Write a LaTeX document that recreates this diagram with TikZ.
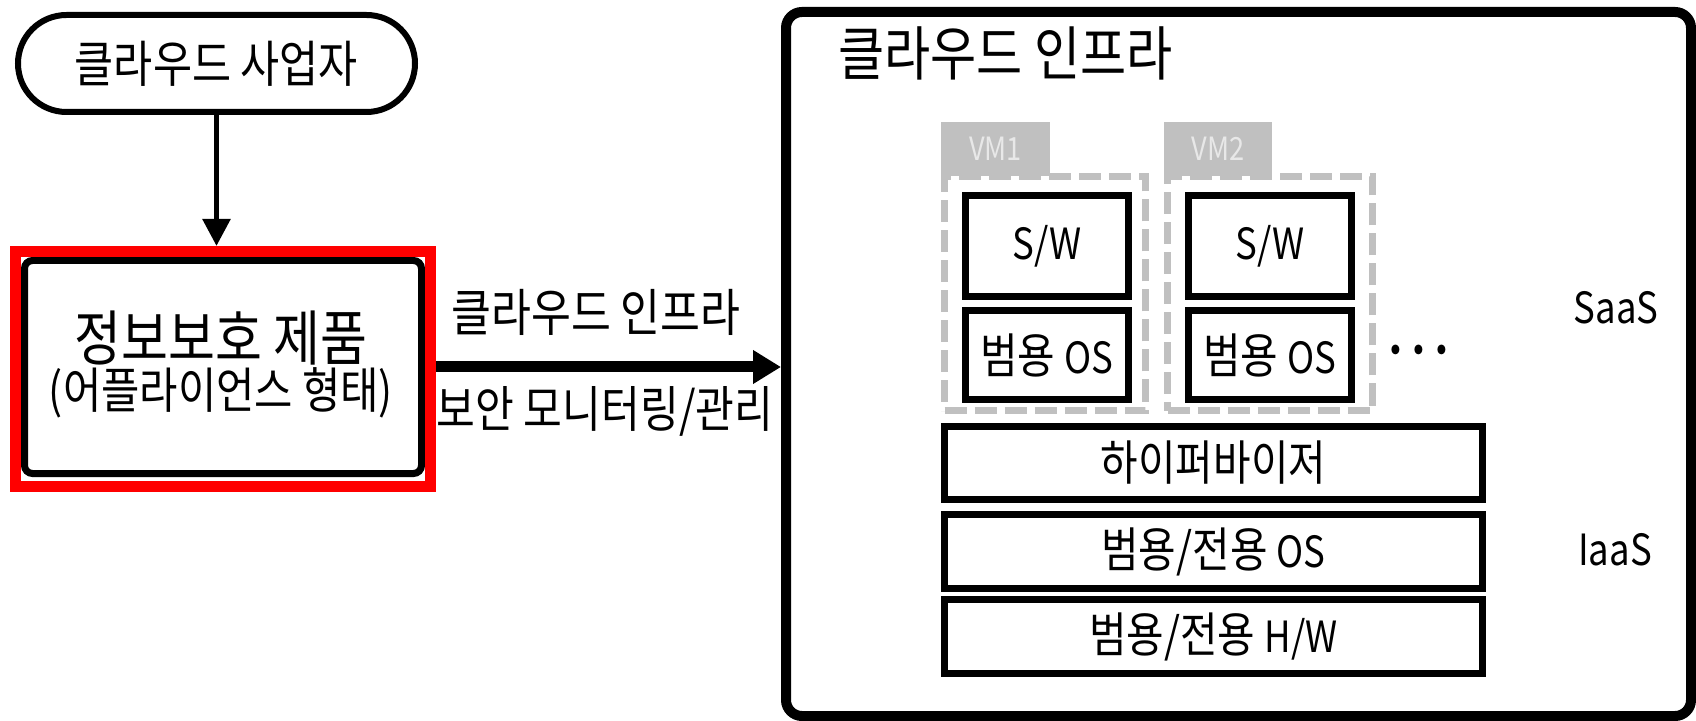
\documentclass[tikz,border=0pt]{standalone}
\usepackage{fontspec}
\setmainfont{Noto Sans CJK KR}[FakeStretch=0.85]
\usetikzlibrary{arrows.meta,shapes.misc}
\newcommand{\fsz}[1]{\fontsize{#1pt}{#1pt}\selectfont}
\newcommand{\latn}[1]{{\fontsize{21.5pt}{21.5pt}\selectfont #1}}
\definecolor{vmgray}{HTML}{C0C0C0}
\definecolor{vmtext}{HTML}{E8E8E8}
\tikzset{
  txt/.style={inner sep=0pt, font=\fsz{24}},
  layerbox/.style={draw=black, line width=3.5pt, fill=white, inner sep=0pt, font=\fsz{24}},
  vmframe/.style={draw=vmgray, line width=3.5pt, dash pattern=on 11pt off 4pt, inner sep=0pt},
  vmtab/.style={fill=vmgray, inner sep=0pt, text=vmtext, font=\fsz{16}},
}
\begin{document}
\begin{tikzpicture}[x=0.5pt,y=-0.5pt]
\useasboundingbox[fill=white] (0,0) rectangle (1696,721);

% provider (stadium)
\node[draw=black, line width=3pt, rounded rectangle, inner sep=0pt,
      minimum width=198.5pt, minimum height=48.5pt, font=\fsz{25}] (prov) at (216.5,63.5) {클라우드 사업자};

% security product
\node[draw=black, line width=3.5pt, rounded corners=4pt, inner sep=0pt,
      minimum width=198.5pt, minimum height=106.5pt] (prod) at (223,367) {};
\node[draw=red, line width=5.5pt, inner sep=0pt,
      minimum width=207.5pt, minimum height=117.5pt] (hl) at (223,369) {};
\node[txt, font=\fsz{30}] (prodA) at (221,338) {정보보호 제품};
\node[txt, font=\fsz{24.5}] (prodB) at (221,393) {(어플라이언스 형태)};

% cloud infra frame
\node[draw=black, line width=5pt, rounded corners=8pt, inner sep=0pt,
      minimum width=452.5pt, minimum height=352pt] (infra) at (1238.5,364) {};
\node[txt, font=\fsz{29.5}, anchor=west] (title) at (838,53) {클라우드 인프라};

% VM1
\node[vmframe, minimum width=100.5pt, minimum height=117pt] (vm1) at (1045,293.5) {};
\node[vmtab, minimum width=54.5pt, minimum height=27pt] (vm1tab) at (995.5,149) {VM1};
\node[layerbox, minimum width=81.5pt, minimum height=50.5pt] (sw1) at (1047,246) {\latn{S/W}};
\node[layerbox, minimum width=81.5pt, minimum height=44.5pt] (os1) at (1047,355) {범용 \latn{OS}};

% VM2
\node[vmframe, minimum width=102.5pt, minimum height=117pt] (vm2) at (1270,293.5) {};
\node[vmtab, minimum width=54pt, minimum height=27pt] (vm2tab) at (1218,149) {VM2};
\node[layerbox, minimum width=81.5pt, minimum height=50.5pt] (sw2) at (1270,246) {\latn{S/W}};
\node[layerbox, minimum width=81.5pt, minimum height=44.5pt] (os2) at (1270,355) {범용 \latn{OS}};

\node[txt, font=\fsz{22}\bfseries] (dots) at (1419,356) {···};

% lower layers
\node[layerbox, minimum width=269pt, minimum height=36.5pt] (hyp) at (1213.5,463) {하이퍼바이저};
\node[layerbox, minimum width=269pt, minimum height=37pt] (hostos) at (1213.5,551.5) {범용/전용 \latn{OS}};
\node[layerbox, minimum width=269pt, minimum height=37pt] (hw) at (1213.5,636.5) {범용/전용 \latn{H/W}};

\node[txt, font=\fsz{21.5}] (saas) at (1616,308) {SaaS};
\node[txt, font=\fsz{21.5}] (iaas) at (1615,550) {IaaS};

% connectors
\draw[line width=2.75pt, -{Triangle[length=13.5pt,width=13.5pt]}] (prov.south) -- (prov.south |- hl.north);
\draw[line width=5.5pt, -{Triangle[length=14pt,width=16pt]}] (hl.east |- 0,367) coordinate (a0) -- (a0 -| infra.west);
\node[txt, font=\fsz{25.5}] (lblA) at (596,312) {클라우드 인프라};
\node[txt, font=\fsz{24.8}] (lblB) at (605,411) {보안 모니터링/관리};
\end{tikzpicture}
\end{document}
